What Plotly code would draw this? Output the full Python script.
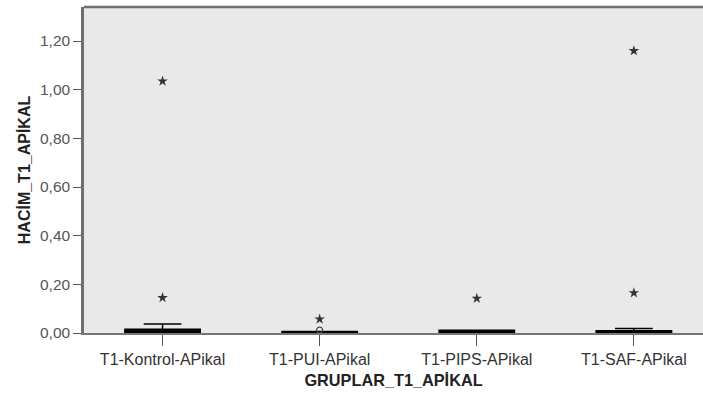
import plotly.graph_objects as go

categories = ["T1-Kontrol-APikal", "T1-PUI-APikal", "T1-PIPS-APikal", "T1-SAF-APikal"]
q1 = [0.0, 0.0, 0.0, 0.0]
median = [0.004, 0.002, 0.003, 0.003]
q3 = [0.015, 0.006, 0.011, 0.009]
lower_whisker = [0.0, 0.0, 0.0, 0.0]
upper_whisker = [0.037, 0.006, 0.011, 0.018]

extreme_cat = ["T1-Kontrol-APikal", "T1-Kontrol-APikal", "T1-PUI-APikal", "T1-PIPS-APikal", "T1-SAF-APikal", "T1-SAF-APikal"]
extreme_val = [1.035, 0.145, 0.057, 0.142, 0.165, 1.16]
outlier_cat = ["T1-PUI-APikal"]
outlier_val = [0.012]

y_ticks = [0.0, 0.2, 0.4, 0.6, 0.8, 1.0, 1.2]

fig = go.Figure()
fig.add_trace(go.Box(
    x=categories, q1=q1, median=median, q3=q3,
    lowerfence=lower_whisker, upperfence=upper_whisker,
    fillcolor="black", line=dict(color="black", width=1.5),
    width=0.48, whiskerwidth=0.5, boxpoints=False, showlegend=False,
))
fig.add_trace(go.Scatter(
    x=extreme_cat, y=extreme_val, mode="markers",
    marker=dict(symbol="star", size=8, color="#333333", line=dict(width=0)),
    showlegend=False,
))
fig.add_trace(go.Scatter(
    x=outlier_cat, y=outlier_val, mode="markers",
    marker=dict(symbol="circle-open", size=6, color="#444444", line=dict(width=1.2)),
    showlegend=False,
))

fig.update_layout(
    width=703, height=394,
    margin=dict(l=84, r=0, t=7, b=61),
    paper_bgcolor="white", plot_bgcolor="#e9e9e9",
    separators=",.",
    font=dict(family="Liberation Sans, Arial, sans-serif", size=15, color="#333333"),
)
fig.update_xaxes(
    type="category", categoryorder="array", categoryarray=categories,
    range=[-0.5, 3.44], showgrid=False, zeroline=False,
    showline=True, linecolor="#777777", linewidth=2,
    ticks="outside", ticklen=11, tickcolor="#555555", tickwidth=1,
    title=dict(text="<b>GRUPLAR_T1_APİKAL</b>", font=dict(size=16.3, color="#222222"), standoff=7),
    tickfont=dict(size=16, color="#333333"),
)
fig.update_yaxes(
    range=[0, 1.34], tickvals=y_ticks, tickformat=".2f",
    showgrid=False, zeroline=False,
    showline=True, linecolor="#6f6f6f", linewidth=2.5, mirror=False,
    ticks="outside", ticklen=8, tickcolor="#555555", tickwidth=1,
    title=dict(text="<b>HACİM_T1_APİKAL</b>", font=dict(size=16, color="#222222"), standoff=6),
    tickfont=dict(size=15.5, color="#555555"),
)
# top frame line
fig.add_shape(type="line", xref="paper", yref="paper", x0=0, x1=1, y0=1, y1=1,
              line=dict(color="#6f6f6f", width=2.5))

fig.write_html("out.html", config={"displayModeBar": False},
               post_script="document.body.style.margin='0';")
